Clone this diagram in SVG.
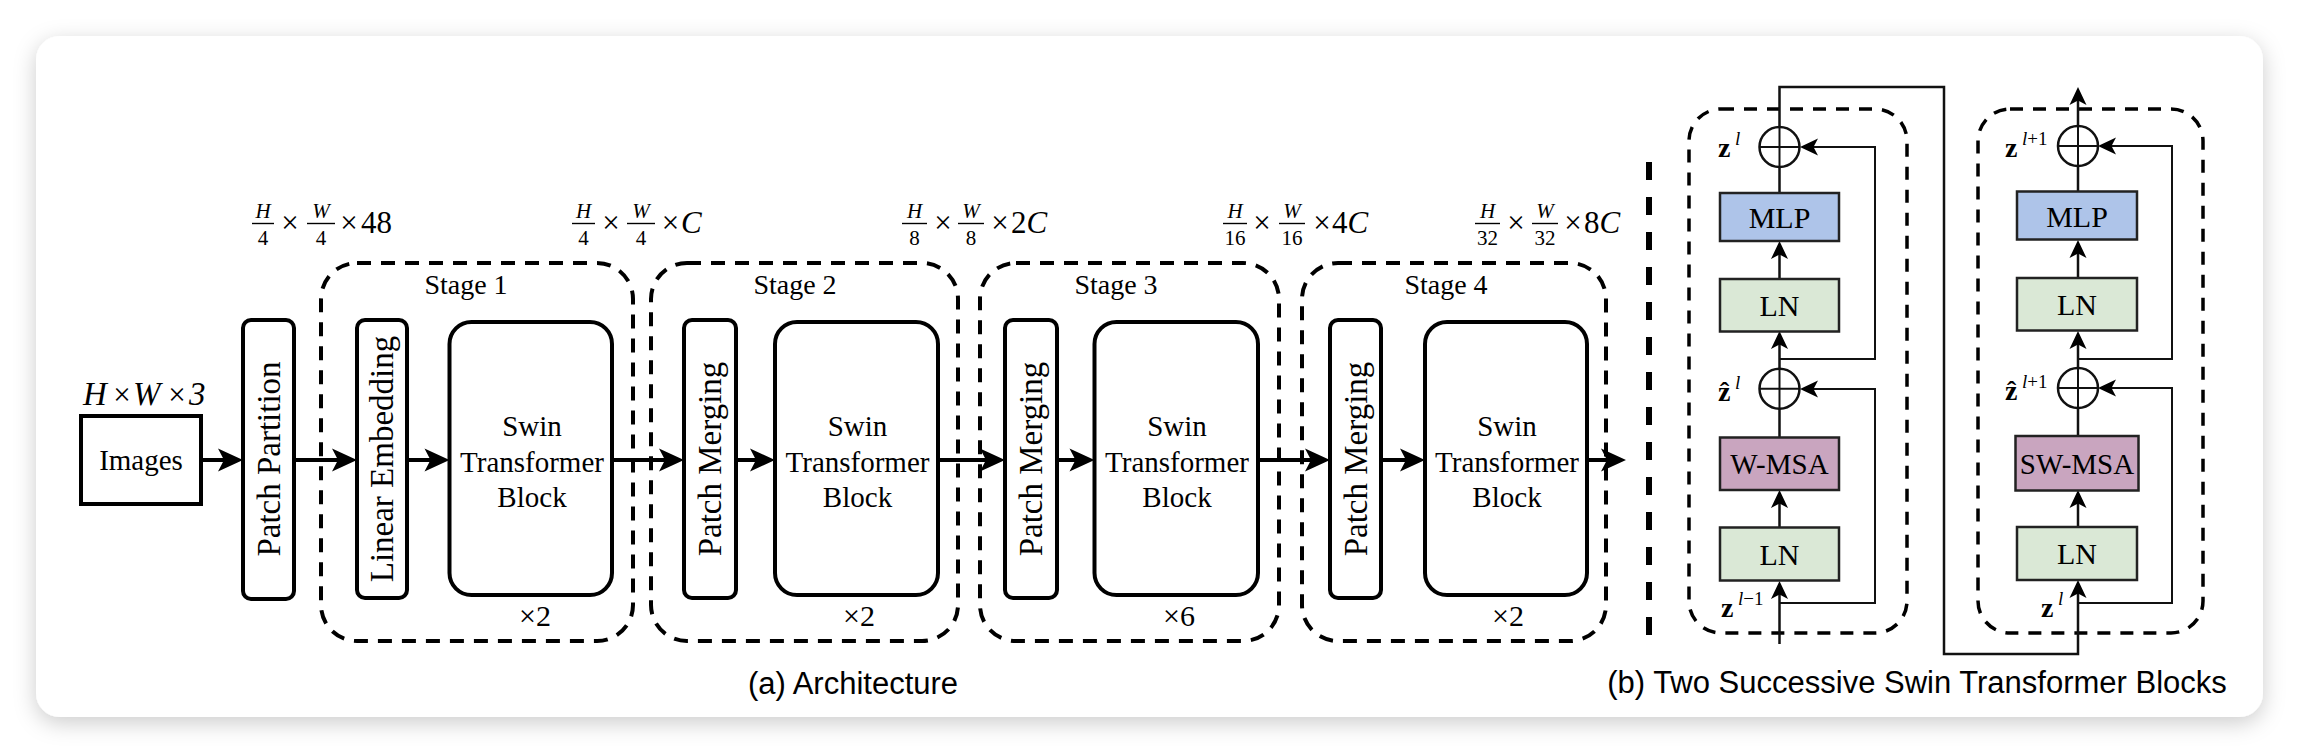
<svg xmlns="http://www.w3.org/2000/svg" width="2306" height="754" viewBox="0 0 2306 754">
<style>
.serif{font-family:"Liberation Serif","Times New Roman",serif;fill:#000}
.sans{font-family:"Liberation Sans",Arial,sans-serif;fill:#000}
.lbl{font-size:29px;text-anchor:middle}
.blbl{font-size:30px;text-anchor:middle}
.rot{font-size:33px;text-anchor:middle}
.stage{font-size:28px;text-anchor:middle}
.mul{font-size:30px;text-anchor:middle}
.box{fill:#fff;stroke:#000;stroke-width:4}
.dash{fill:none;stroke:#000;stroke-width:4;stroke-dasharray:14 10}
.dashb{fill:none;stroke:#000;stroke-width:3.5;stroke-dasharray:13 10}
.flow{stroke:#000;stroke-width:4;fill:none}
.thin{stroke:#111;stroke-width:2.5;fill:none}
.skip{stroke:#111;stroke-width:2;fill:none}
.bb{stroke:#222;stroke-width:2.5}
.mlp{fill:#aec4e9}
.ln{fill:#dae8d6}
.msa{fill:#c9a5bf}
.num{font-size:21px;font-style:italic;text-anchor:middle}
.den{font-size:21px;text-anchor:middle}
.big{font-size:31px}
.it{font-style:italic}
.bar{stroke:#000;stroke-width:1.4}
.zb{font-size:28px;font-weight:bold}
.sup{font-size:19px}
</style>
<defs>
<marker id="ah" viewBox="-20 -15 40 30" markerWidth="40" markerHeight="30" refX="0" refY="0" orient="auto" markerUnits="userSpaceOnUse" overflow="visible">
<path d="M12,0 L-13,-11.5 L-7,0 L-13,11.5 Z" fill="#000"/>
</marker>
<marker id="as" viewBox="-15 -12 30 24" markerWidth="30" markerHeight="24" refX="0" refY="0" orient="auto" markerUnits="userSpaceOnUse" overflow="visible">
<path d="M9,0 L-9,-8.5 L-4.5,0 L-9,8.5 Z" fill="#000"/>
</marker>
<filter id="sh" x="-5%" y="-10%" width="110%" height="125%">
<feDropShadow dx="0" dy="6" stdDeviation="11" flood-color="#000" flood-opacity="0.2"/>
</filter>
</defs>
<rect x="0" y="0" width="2306" height="754" fill="#fff"/>
<rect id="card" x="36" y="36" width="2227" height="681" rx="24" fill="#fff" filter="url(#sh)"/>

<!-- Part (a) -->
<g id="dims" class="serif">
<g id="dim0">
<text x="83" y="405" class="it" font-size="33">H</text>
<text x="122" y="405" font-size="31" text-anchor="middle">×</text>
<text x="133" y="405" class="it" font-size="33">W</text>
<text x="177" y="405" font-size="31" text-anchor="middle">×</text>
<text x="189" y="405" class="it" font-size="33">3</text>
</g>
<g id="dim1">
<text x="263" y="218" class="num">H</text><line x1="252" y1="223.5" x2="274" y2="223.5" class="bar"/><text x="263" y="245" class="den">4</text>
<text x="290" y="233" class="big" text-anchor="middle">×</text>
<text x="321" y="218" class="num">W</text><line x1="307" y1="223.5" x2="335" y2="223.5" class="bar"/><text x="321" y="245" class="den">4</text>
<text x="349" y="233" class="big" text-anchor="middle">×</text>
<text x="361" y="233" class="big">48</text>
</g>
<g id="dim2">
<text x="583.5" y="218" class="num">H</text><line x1="572" y1="223.5" x2="595" y2="223.5" class="bar"/><text x="583.5" y="245" class="den">4</text>
<text x="611" y="233" class="big" text-anchor="middle">×</text>
<text x="641" y="218" class="num">W</text><line x1="627" y1="223.5" x2="655" y2="223.5" class="bar"/><text x="641" y="245" class="den">4</text>
<text x="670.5" y="233" class="big" text-anchor="middle">×</text>
<text x="681" y="233" class="big it">C</text>
</g>
<g id="dim3">
<text x="914.5" y="218" class="num">H</text><line x1="902" y1="223.5" x2="927" y2="223.5" class="bar"/><text x="914.5" y="245" class="den">8</text>
<text x="943" y="233" class="big" text-anchor="middle">×</text>
<text x="971" y="218" class="num">W</text><line x1="958" y1="223.5" x2="984" y2="223.5" class="bar"/><text x="971" y="245" class="den">8</text>
<text x="1000" y="233" class="big" text-anchor="middle">×</text>
<text x="1011" y="233" class="big">2<tspan class="it">C</tspan></text>
</g>
<g id="dim4">
<text x="1235" y="218" class="num">H</text><line x1="1223" y1="223.5" x2="1247" y2="223.5" class="bar"/><text x="1235" y="245" class="den">16</text>
<text x="1262" y="233" class="big" text-anchor="middle">×</text>
<text x="1292" y="218" class="num">W</text><line x1="1279" y1="223.5" x2="1305" y2="223.5" class="bar"/><text x="1292" y="245" class="den">16</text>
<text x="1322" y="233" class="big" text-anchor="middle">×</text>
<text x="1332" y="233" class="big">4<tspan class="it">C</tspan></text>
</g>
<g id="dim5">
<text x="1487.5" y="218" class="num">H</text><line x1="1475" y1="223.5" x2="1500" y2="223.5" class="bar"/><text x="1487.5" y="245" class="den">32</text>
<text x="1516" y="233" class="big" text-anchor="middle">×</text>
<text x="1545" y="218" class="num">W</text><line x1="1532" y1="223.5" x2="1558" y2="223.5" class="bar"/><text x="1545" y="245" class="den">32</text>
<text x="1573" y="233" class="big" text-anchor="middle">×</text>
<text x="1584" y="233" class="big">8<tspan class="it">C</tspan></text>
</g>
</g>

<g id="stages" class="serif">
<g id="stage1"><rect x="321" y="263" width="312" height="378" rx="36" class="dash"/><text x="466" y="294" class="stage">Stage 1</text><text x="535" y="626" class="mul">×2</text></g>
<g id="stage2"><rect x="651" y="263" width="307" height="378" rx="36" class="dash"/><text x="795" y="294" class="stage">Stage 2</text><text x="859" y="626" class="mul">×2</text></g>
<g id="stage3"><rect x="980" y="263" width="299" height="378" rx="36" class="dash"/><text x="1116" y="294" class="stage">Stage 3</text><text x="1179" y="626" class="mul">×6</text></g>
<g id="stage4"><rect x="1302" y="263" width="304" height="378" rx="36" class="dash"/><text x="1446" y="294" class="stage">Stage 4</text><text x="1508" y="626" class="mul">×2</text></g>
</g>

<g id="images" class="serif"><rect x="81" y="416" width="120" height="88" class="box"/><text x="141" y="470" class="lbl">Images</text></g>
<g id="patch-partition" class="serif"><rect x="243" y="320" width="51" height="279" rx="8" class="box"/><text transform="translate(268.5,459) rotate(-90)" x="0" y="11" class="rot">Patch Partition</text></g>
<g id="linear-embedding" class="serif"><rect x="357" y="320" width="50" height="278" rx="8" class="box"/><text transform="translate(382,459) rotate(-90)" x="0" y="11" class="rot">Linear Embedding</text></g>
<g id="swin1" class="serif"><rect x="449.5" y="322" width="162.5" height="273" rx="22" class="box"/><text x="532" y="436" class="lbl">Swin</text><text x="532" y="472" class="lbl">Transformer</text><text x="532" y="507" class="lbl">Block</text></g>
<g id="merge2" class="serif"><rect x="684" y="320" width="52" height="278" rx="8" class="box"/><text transform="translate(710,459) rotate(-90)" x="0" y="11" class="rot">Patch Merging</text></g>
<g id="swin2" class="serif"><rect x="775" y="322" width="163" height="273" rx="22" class="box"/><text x="857.5" y="436" class="lbl">Swin</text><text x="857.5" y="472" class="lbl">Transformer</text><text x="857.5" y="507" class="lbl">Block</text></g>
<g id="merge3" class="serif"><rect x="1005" y="320" width="52" height="278" rx="8" class="box"/><text transform="translate(1031,459) rotate(-90)" x="0" y="11" class="rot">Patch Merging</text></g>
<g id="swin3" class="serif"><rect x="1094.5" y="322" width="163.5" height="273" rx="22" class="box"/><text x="1177" y="436" class="lbl">Swin</text><text x="1177" y="472" class="lbl">Transformer</text><text x="1177" y="507" class="lbl">Block</text></g>
<g id="merge4" class="serif"><rect x="1330" y="320" width="51" height="278" rx="8" class="box"/><text transform="translate(1355.5,459) rotate(-90)" x="0" y="11" class="rot">Patch Merging</text></g>
<g id="swin4" class="serif"><rect x="1425" y="322" width="162" height="273" rx="22" class="box"/><text x="1507" y="436" class="lbl">Swin</text><text x="1507" y="472" class="lbl">Transformer</text><text x="1507" y="507" class="lbl">Block</text></g>

<g id="connectors-a">
<line x1="201" y1="460" x2="231" y2="460" class="flow" marker-end="url(#ah)"/>
<line x1="294" y1="460" x2="345" y2="460" class="flow" marker-end="url(#ah)"/>
<line x1="407" y1="460" x2="437.5" y2="460" class="flow" marker-end="url(#ah)"/>
<line x1="612" y1="460" x2="672" y2="460" class="flow" marker-end="url(#ah)"/>
<line x1="736" y1="460" x2="763" y2="460" class="flow" marker-end="url(#ah)"/>
<line x1="938" y1="460" x2="993" y2="460" class="flow" marker-end="url(#ah)"/>
<line x1="1057" y1="460" x2="1082.5" y2="460" class="flow" marker-end="url(#ah)"/>
<line x1="1258" y1="460" x2="1318" y2="460" class="flow" marker-end="url(#ah)"/>
<line x1="1381" y1="460" x2="1413" y2="460" class="flow" marker-end="url(#ah)"/>
<line x1="1587" y1="460" x2="1614" y2="460" class="flow" marker-end="url(#ah)"/>
</g>

<line id="separator" x1="1649" y1="162" x2="1649" y2="640" stroke="#000" stroke-width="6" stroke-dasharray="18 17"/>

<!-- Part (b) -->
<g id="block-l">
<rect x="1689" y="109" width="218" height="524" rx="32" class="dashb"/>
</g>
<g id="block-r">
<rect x="1978" y="109" width="225" height="524" rx="32" class="dashb"/>
</g>

<g id="connectors-b">
<path d="M1779.5,644 V590" class="thin" marker-end="url(#as)"/>
<path d="M1779.5,527 V499" class="thin" stroke-width="3" marker-end="url(#as)"/>
<path d="M1779.5,437 V409" class="thin"/>
<path d="M1779.5,368 V340" class="thin" marker-end="url(#as)"/>
<path d="M1779.5,279 V250" class="thin" stroke-width="3" marker-end="url(#as)"/>
<path d="M1779.5,193 V167" class="thin"/>
<path d="M1779.5,127 V87 H1944 V654 H2078 V589" class="thin" marker-end="url(#as)"/>
<path d="M1779.5,603 H1875 V389 H1809" class="skip" marker-end="url(#as)"/>
<path d="M1779.5,359 H1875 V147 H1809" class="skip" marker-end="url(#as)"/>
<path d="M2078,527 V499" class="thin" stroke-width="3" marker-end="url(#as)"/>
<path d="M2078,436 V408" class="thin"/>
<path d="M2078,368 V340" class="thin" marker-end="url(#as)"/>
<path d="M2078,278 V249" class="thin" stroke-width="3" marker-end="url(#as)"/>
<path d="M2078,191 V166" class="thin"/>
<path d="M2078,126 V96" class="thin" marker-end="url(#as)"/>
<path d="M2078,603 H2172 V388 H2107" class="skip" marker-end="url(#as)"/>
<path d="M2078,359 H2172 V146 H2107" class="skip" marker-end="url(#as)"/>
</g>

<g id="add-l1"><circle cx="1779.5" cy="147" r="20" fill="#fff" stroke="#111" stroke-width="2.5"/><path d="M1759.5,147 H1799.5 M1779.5,127 V167" class="skip"/></g>
<g id="add-l2"><circle cx="1779.5" cy="388.7" r="20" fill="#fff" stroke="#111" stroke-width="2.5"/><path d="M1759.5,388.7 H1799.5 M1779.5,368.7 V408.7" class="skip"/></g>
<g id="add-r1"><circle cx="2078" cy="146" r="20" fill="#fff" stroke="#111" stroke-width="2.5"/><path d="M2058,146 H2098 M2078,126 V166" class="skip"/></g>
<g id="add-r2"><circle cx="2078" cy="388" r="20" fill="#fff" stroke="#111" stroke-width="2.5"/><path d="M2058,388 H2098 M2078,368 V408" class="skip"/></g>

<g id="mlp-l" class="serif"><rect x="1720" y="193" width="119" height="48" class="mlp bb"/><text x="1779.5" y="228" class="blbl">MLP</text></g>
<g id="ln2-l" class="serif"><rect x="1720" y="279" width="119" height="52.5" class="ln bb"/><text x="1779.5" y="316" class="blbl">LN</text></g>
<g id="wmsa" class="serif"><rect x="1720" y="437.5" width="119" height="52.5" class="msa bb"/><text x="1779.5" y="474" class="lbl">W-MSA</text></g>
<g id="ln1-l" class="serif"><rect x="1720" y="527.5" width="119" height="53" class="ln bb"/><text x="1779.5" y="565" class="blbl">LN</text></g>

<g id="mlp-r" class="serif"><rect x="2017" y="191.5" width="120" height="48" class="mlp bb"/><text x="2077" y="227" class="blbl">MLP</text></g>
<g id="ln2-r" class="serif"><rect x="2017" y="278" width="120" height="52.5" class="ln bb"/><text x="2077" y="315" class="blbl">LN</text></g>
<g id="swmsa" class="serif"><rect x="2015.5" y="436" width="123" height="54.5" class="msa bb"/><text x="2077" y="474" class="lbl">SW-MSA</text></g>
<g id="ln1-r" class="serif"><rect x="2017" y="527" width="120" height="53" class="ln bb"/><text x="2077" y="564" class="blbl">LN</text></g>

<g id="zlabels" class="serif">
<text x="1718" y="157" class="zb">z</text><text x="1735" y="145" class="sup it">l</text>
<text x="1718" y="401" class="zb">ẑ</text><text x="1735" y="389" class="sup it">l</text>
<text x="1721" y="617" class="zb">z</text><text x="1738" y="605" class="sup"><tspan class="it">l</tspan>−1</text>
<text x="2005" y="157" class="zb">z</text><text x="2022" y="145" class="sup"><tspan class="it">l</tspan>+1</text>
<text x="2005" y="400" class="zb">ẑ</text><text x="2022" y="388" class="sup"><tspan class="it">l</tspan>+1</text>
<text x="2041" y="617" class="zb">z</text><text x="2058" y="605" class="sup it">l</text>
</g>

<g id="captions" class="sans">
<text x="853" y="694" font-size="31" text-anchor="middle">(a) Architecture</text>
<text x="1917" y="693" font-size="31" text-anchor="middle">(b) Two Successive Swin Transformer Blocks</text>
</g>
</svg>
